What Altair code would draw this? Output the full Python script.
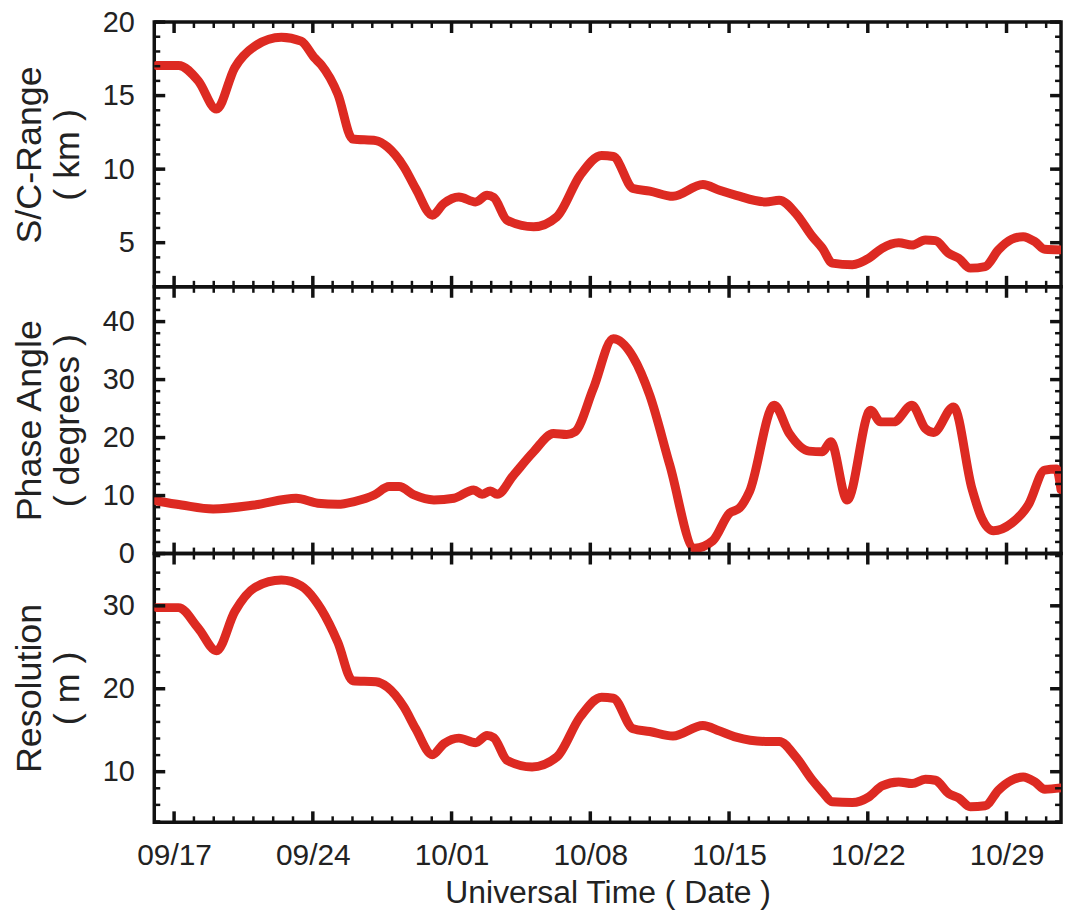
import altair as alt
import pandas as pd

# Time axis: days counted from 2005-09-16 00:00 UTC
T0 = pd.Timestamp("2005-09-16T00:00:00Z")
DAY_END = 45.75

# Spacecraft range (km)
range_day = [0.13, 1.22, 2.22, 3.14, 4.06, 5.07, 6.41, 7.41, 8.08, 8.42, 9.26, 10.01,
             11.18, 11.77, 12.6, 13.19, 14.03, 14.61, 15.37, 16.21, 16.79, 17.13, 17.8,
             19.14, 20.31, 21.48, 22.57, 23.16, 24.16, 25.0, 26.17, 27.68, 28.52, 29.36,
             30.86, 31.53, 32.37, 33.21, 33.71, 34.21, 35.22, 36.06, 36.72, 37.56, 38.23,
             38.9, 39.41, 40.08, 40.58, 41.17, 41.92, 42.59, 43.26, 43.84, 44.43, 44.93, 45.75]
range_km = [17.05, 17.05, 16.0, 14.08, 16.9, 18.36, 18.97, 18.7, 17.57, 17.1, 15.1, 12.05,
            11.94, 11.5, 10.14, 8.68, 6.87, 7.66, 8.1, 7.77, 8.22, 8.07, 6.53,
            6.08, 6.76, 9.57, 10.93, 10.86, 8.68, 8.51, 8.15, 8.95, 8.56, 8.22,
            7.77, 7.89, 6.99, 5.41, 4.62, 3.61, 3.5, 3.95, 4.62, 5.0, 4.84,
            5.18, 5.14, 4.28, 3.95, 3.27, 3.38, 4.51, 5.23, 5.41, 5.07, 4.55, 4.51]

# Phase angle (degrees)
phase_day = [0.13, 1.38, 2.97, 5.07, 7.16, 8.25, 9.26, 10.09, 11.1, 11.85, 12.35, 13.11,
             14.11, 15.12, 16.12, 16.54, 16.96, 17.3, 18.13, 19.14, 20.14, 20.81, 21.23,
             22.15, 23.16, 24.16, 25.0, 26.01, 27.26, 28.18, 29.02, 29.52, 30.03, 31.28,
             32.04, 33.04, 33.71, 34.13, 34.96, 36.14, 36.64, 37.31, 38.23, 38.9, 39.32,
             40.33, 41.25, 41.75, 42.34, 43.26, 44.1, 44.93, 45.52, 45.75]
phase_deg = [9.07, 8.38, 7.7, 8.38, 9.54, 8.68, 8.5, 8.97, 10.1, 11.55, 11.55, 10.1,
             9.24, 9.54, 10.96, 10.22, 10.79, 10.22, 13.54, 17.56, 20.7, 20.53, 21.0,
             28.44, 37.03, 33.88, 27.29, 15.26, 0.9, 2.2, 6.96, 7.82, 10.69, 25.57,
             20.7, 17.66, 17.56, 19.28, 9.24, 24.71, 22.71, 22.71, 25.57, 21.56, 20.88,
             25.29, 11.25, 6.1, 3.92, 5.24, 8.38, 14.4, 14.57, 11.0]

# Image resolution (m)
res_day = [0.13, 1.22, 2.22, 3.14, 4.06, 5.07, 6.41, 7.41, 8.08, 8.42, 9.26, 10.01,
           11.18, 11.77, 12.6, 13.19, 14.03, 14.61, 15.37, 16.21, 16.79, 17.13, 17.8,
           19.06, 20.31, 21.48, 22.57, 23.16, 24.16, 25.0, 26.17, 27.68, 28.52, 29.36,
           30.86, 31.53, 32.37, 33.21, 33.71, 34.21, 35.22, 36.06, 36.72, 37.56, 38.23,
           38.9, 39.41, 40.08, 40.58, 41.17, 41.92, 42.59, 43.26, 43.84, 44.43, 44.93, 45.75]
res_m = [29.78, 29.78, 27.3, 24.57, 29.3, 32.2, 33.1, 32.4, 30.8, 29.6, 25.6, 20.97,
         20.85, 20.18, 17.78, 15.17, 12.05, 13.37, 14.05, 13.49, 14.37, 14.1, 11.37,
         10.57, 11.77, 16.58, 18.98, 18.86, 15.17, 14.85, 14.3, 15.57, 14.9, 14.17,
         13.65, 13.65, 11.77, 8.97, 7.57, 6.37, 6.29, 6.97, 8.29, 8.77, 8.57,
         9.09, 8.97, 7.37, 6.85, 5.77, 5.89, 7.77, 8.97, 9.37, 8.77, 7.89, 8.05]

# Weekly labelled dates (09/17 ... 10/29) and daily minor ticks
major_days = [1, 8, 15, 22, 29, 36, 43]
minor_days = list(range(0, 46))


def to_ms(days):
    return [int((T0 + pd.to_timedelta(d, unit="D")).value // 10**6) for d in days]


X_DOMAIN = to_ms([0, DAY_END])
RED = "#dd2a22"
INK = "#111111"
TEXT = "#222222"
FONT = "Liberation Sans"
W = 911
MAJ, MIN = 11, 6

xscale = alt.Scale(type="utc", domain=X_DOMAIN, nice=False)

xticks_df = pd.DataFrame({"t": to_ms(minor_days),
                          "major": [d in major_days for d in minor_days]})

XAXIS = alt.Axis(values=to_ms(major_days),
                 labelExpr="utcFormat(datum.value, '%m/%d')",
                 ticks=False, tickSize=0, domain=False, grid=False,
                 labelFontSize=30, labelPadding=18, labelColor=TEXT,
                 labelFont=FONT, labelOverlap=False, labelFlush=False,
                 title="Universal Time ( Date )", titleFontSize=32,
                 titleFont=FONT, titleFontWeight="normal", titleColor=TEXT,
                 titleBaseline="alphabetic", titleY=81)


def panel(days, vals, title, ydomain, major_vals, minor_vals, height, bottom=False):
    df = pd.DataFrame({"t": to_ms(days), "v": vals})
    yscale = alt.Scale(domain=ydomain, nice=False, zero=False)
    # every layer carries the same axis spec so the shared axes merge cleanly
    xaxis = XAXIS if bottom else None
    yaxis = alt.Axis(values=major_vals, ticks=False, tickSize=0, domain=False, grid=False,
                     labelFontSize=29, labelPadding=20, labelColor=TEXT, labelFont=FONT,
                     labelOverlap=False, labelBound=False,
                     title=title, titleFontSize=36, titleFont=FONT,
                     titleFontWeight="normal", titleColor=TEXT, titleAngle=270,
                     titleAlign="center", titleBaseline="alphabetic",
                     titleLineHeight=38, titleX=-114, titleY=height / 2)

    def xenc():
        return alt.X("t:T", scale=xscale, axis=xaxis)

    def yenc():
        return alt.Y("v:Q", scale=yscale, axis=yaxis)

    line = alt.Chart(df).mark_line(color=RED, strokeWidth=9, clip=True,
                                   interpolate="monotone", strokeJoin="round",
                                   strokeCap="round").encode(x=xenc(), y=yenc())

    xt = alt.Chart(xticks_df)
    layers = [line]
    for is_major, size, sw in [(False, MIN, 2.5), (True, MAJ, 3.5)]:
        sub = xt.transform_filter(alt.datum.major if is_major else ~alt.datum.major)
        layers.append(sub.mark_rule(color=INK, strokeWidth=sw).encode(
            x=xenc(), y=alt.value(0), y2=alt.value(size)))
        layers.append(sub.mark_rule(color=INK, strokeWidth=sw).encode(
            x=xenc(), y=alt.value(height), y2=alt.value(height - size)))

    for tv, size, sw in [(minor_vals, MIN, 2.5), (major_vals, MAJ, 3.5)]:
        tdf = pd.DataFrame({"v": tv})
        layers.append(alt.Chart(tdf).mark_rule(color=INK, strokeWidth=sw).encode(
            y=yenc(), x=alt.value(0), x2=alt.value(size)))
        layers.append(alt.Chart(tdf).mark_rule(color=INK, strokeWidth=sw).encode(
            y=yenc(), x=alt.value(W), x2=alt.value(W - size)))

    return alt.layer(*layers).properties(width=W, height=height)


p1 = panel(range_day, range_km, ["S/C-Range", "( km )"], [2, 20],
           [5, 10, 15, 20], list(range(2, 21)), 266)
p2 = panel(phase_day, phase_deg, ["Phase Angle", "( degrees )"], [0, 46],
           [0, 10, 20, 30, 40], list(range(0, 47, 2)), 268)
p3 = panel(res_day, res_m, ["Resolution", "( m )"], [3.9, 36.3],
           [10, 20, 30], list(range(4, 37, 2)), 270, bottom=True)

chart = alt.vconcat(p1, p2, p3, spacing=0, bounds="flush").resolve_scale(
    x="shared", y="independent"
).properties(
    padding={"left": 10, "top": 4, "right": 2, "bottom": 5},
    background="white",
).configure_view(
    stroke=INK, strokeWidth=3.5
)

chart.save("out.html", embed_options={"renderer": "svg", "actions": False})
